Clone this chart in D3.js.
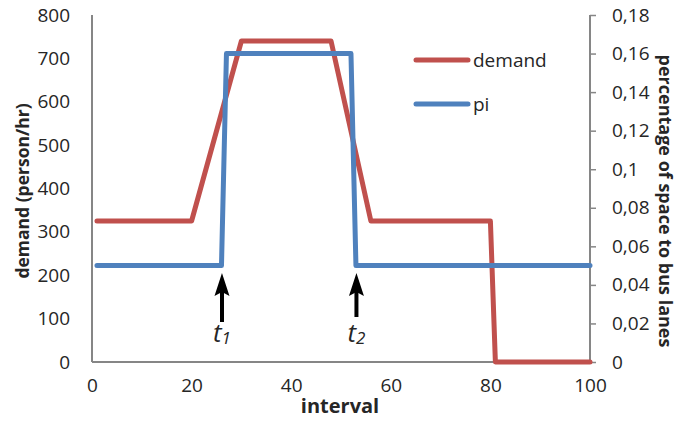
<!DOCTYPE html>
<html><head><meta charset="utf-8">
<script src="https://cdn.jsdelivr.net/npm/d3@7"></script>
<style>
html,body{margin:0;padding:0;background:#fff;}
svg{display:block;font-family:"Open Sans",sans-serif;}
</style></head>
<body><svg id="c" width="680" height="428"></svg>
<script>
// ---- data ----
const demandX = [1, 20, 30, 48, 56, 80, 81, 100];
const demandY = [325, 325, 740, 740, 325, 325, 0, 0];
const piX = [1, 26, 27, 52, 53, 100];
const piY = [0.05, 0.05, 0.16, 0.16, 0.05, 0.05];
const xTicks = [0, 20, 40, 60, 80, 100];
const leftTicks = [0, 100, 200, 300, 400, 500, 600, 700, 800];
const rightTicks = [0, 0.02, 0.04, 0.06, 0.08, 0.1, 0.12, 0.14, 0.16, 0.18];
const rightTickLabels = ["0", "0,02", "0,04", "0,06", "0,08", "0,1", "0,12", "0,14", "0,16", "0,18"];
const seriesNames = ["demand", "pi"];
const annotations = [{x: 26, label: "t", sub: "1", bottom: 322}, {x: 53, label: "t", sub: "2", bottom: 317}];

const svg = d3.select("#c");
const L = 92, R = 590, T = 15, B = 362;
const x = d3.scaleLinear().domain([0, 100]).range([L, R]);
const yL = d3.scaleLinear().domain([0, 800]).range([B, T]);
const yR = d3.scaleLinear().domain([0, 0.18]).range([B, T]);
const axisCol = "#868686", textCol = "#262626";
const red = "#C0504D", blue = "#4F81BD";

// axes
const gx = svg.append("g").attr("transform", `translate(0,${B})`)
  .call(d3.axisBottom(x).tickValues(xTicks).tickSize(0).tickPadding(17).tickFormat(d3.format("d")));
const gl = svg.append("g").attr("transform", `translate(${L},0)`)
  .call(d3.axisLeft(yL).tickValues(leftTicks).tickSize(0).tickPadding(22).tickFormat(d3.format("d")));
const gr = svg.append("g").attr("transform", `translate(${R},0)`)
  .call(d3.axisRight(yR).tickValues(rightTicks).tickSize(6).tickPadding(16).tickFormat((d,i) => rightTickLabels[i]));
[gx, gl, gr].forEach(g => {
  g.select(".domain").attr("stroke", axisCol).attr("stroke-width", 2);
  g.selectAll(".tick line").attr("stroke", axisCol).attr("stroke-width", 1.5);
  g.selectAll("text").attr("fill", textCol).style("font-size", "19px").style("font-family", "'Open Sans', sans-serif");
});
gl.select(".domain").attr("d", `M0,${T}V${B}`);
gr.select(".domain").attr("d", `M0,${T}V${B}`);
gx.select(".domain").attr("d", `M${L},0H${R}`);

// titles
svg.append("text").attr("x", 340).attr("y", 413).attr("text-anchor", "middle")
  .attr("font-weight", "bold").attr("font-size", 20).attr("fill", textCol).text("interval");
svg.append("text").attr("transform", "translate(29,191) rotate(-90)").attr("text-anchor", "middle")
  .attr("font-weight", "bold").attr("font-size", 17.5).attr("fill", textCol).text("demand (person/hr)");
svg.append("text").attr("transform", "translate(659,201) rotate(90)").attr("text-anchor", "middle")
  .attr("font-weight", "bold").attr("font-size", 18).attr("fill", textCol).text("percentage of space to bus lanes");

// lines
const lineL = d3.line().x(d => x(d[0])).y(d => yL(d[1]));
const lineR = d3.line().x(d => x(d[0])).y(d => yR(d[1]));
svg.append("path").datum(demandX.map((v,i) => [v, demandY[i]])).attr("d", lineL)
  .attr("fill", "none").attr("stroke", red).attr("stroke-width", 5).attr("stroke-linejoin", "round").attr("stroke-linecap", "round");
svg.append("path").datum(piX.map((v,i) => [v, piY[i]])).attr("d", lineR)
  .attr("fill", "none").attr("stroke", blue).attr("stroke-width", 5).attr("stroke-linejoin", "round").attr("stroke-linecap", "round");

// legend
const leg = svg.append("g");
[red, blue].forEach((c, i) => {
  const yy = 60 + i * 44;
  leg.append("line").attr("x1", 416).attr("x2", 468).attr("y1", yy).attr("y2", yy)
    .attr("stroke", c).attr("stroke-width", 5).attr("stroke-linecap", "round");
  leg.append("text").attr("x", 473).attr("y", yy).attr("dy", "0.35em").attr("font-size", 19)
    .attr("fill", textCol).text(seriesNames[i]);
});

// annotations
annotations.forEach(a => {
  const ax = x(a.x) + 0.5;
  svg.append("line").attr("x1", ax).attr("x2", ax).attr("y1", a.bottom).attr("y2", 290)
    .attr("stroke", "#000").attr("stroke-width", 4);
  svg.append("path").attr("d", `M${ax},273L${ax - 7.5},296L${ax},292L${ax + 7.5},296Z`).attr("fill", "#000");
  const t = svg.append("text").attr("x", ax).attr("y", 342).attr("text-anchor", "middle")
    .attr("font-style", "italic").attr("font-size", 26).attr("fill", textCol);
  t.append("tspan").text(a.label);
  t.append("tspan").attr("font-size", 17).attr("dy", 2).text(a.sub);
});
</script></body></html>
